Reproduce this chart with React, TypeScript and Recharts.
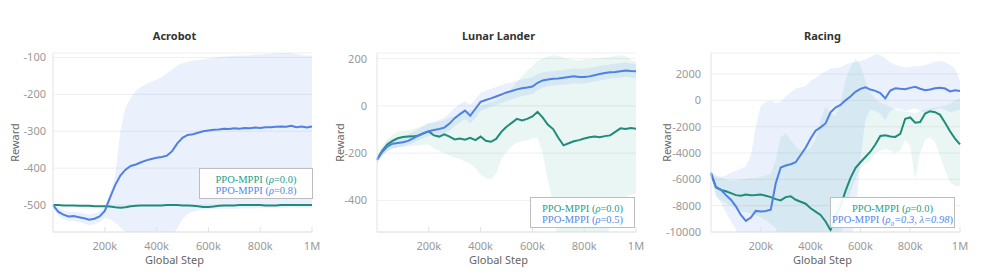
import { Area, CartesianGrid, ComposedChart, Line, XAxis, YAxis } from "recharts";

// Three training-curve panels: mean reward per global step (thousands) with a shaded range.

const STEP_K = [
  0, 20, 40, 60, 80, 100, 120, 140, 160, 180, 200, 220, 240, 260, 280, 300, 320, 340, 360, 380,
  400, 420, 440, 460, 480, 500, 520, 540, 560, 580, 600, 620, 640, 660, 680, 700, 720, 740, 760,
  780, 800, 820, 840, 860, 880, 900, 920, 940, 960, 980, 1000,
];
const X_TICKS = [200, 400, 600, 800, 1000];

// Acrobot
const ACRO_TICKS = [-500, -400, -300, -200, -100];
const ACRO_G = [
  -500, -500, -501, -501, -501, -502, -502, -502, -503, -503, -503, -504, -506, -507, -506, -503,
  -502, -501, -501, -501, -501, -501, -500, -500, -500, -501, -501, -502, -503, -505, -505, -504,
  -502, -501, -501, -501, -500, -500, -500, -500, -500, -501, -501, -501, -500, -500, -500, -500,
  -500, -500, -500,
];
const ACRO_B = [
  -500, -518, -526, -531, -530, -533, -536, -540, -537, -531, -516, -480, -446, -420, -404, -394,
  -390, -384, -379, -375, -372, -370, -366, -354, -333, -318, -310, -308, -304, -300, -298, -296,
  -295, -293, -294, -292, -293, -291, -292, -290, -291, -289, -289, -288, -287, -288, -285, -289,
  -287, -290, -287,
];
const ACRO_B_HI = [
  -495, -508, -514, -518, -518, -520, -522, -526, -523, -518, -504, -470, -420, -300, -235, -210,
  -190, -180, -172, -166, -160, -153, -143, -133, -122, -116, -112, -109, -107, -105, -103, -101,
  -99, -98, -97, -96, -95, -95, -94, -93, -92, -91, -90, -89, -88, -88, -89, -91, -94, -95, -95,
];
const ACRO_B_LO = [
  -505, -528, -538, -543, -543, -546, -550, -555, -552, -546, -536, -538, -548, -560, -575, -590,
  -600, -600, -600, -600, -600, -600, -600, -590, -562, -538, -524, -518, -515, -513, -512, -511,
  -511, -510, -510, -510, -509, -509, -509, -509, -508, -508, -508, -508, -508, -507, -507, -507,
  -507, -507, -507,
];

// Lunar Lander
const LUNAR_TICKS = [-400, -200, 0, 200];
const LUNAR_G = [
  -228, -190, -163, -148, -137, -132, -130, -129, -125, -116, -108, -125, -130, -120, -130, -142,
  -138, -143, -135, -145, -130, -148, -152, -140, -110, -88, -72, -55, -62, -55, -45, -25, -50, -80,
  -98, -135, -167, -158, -150, -145, -138, -133, -130, -133, -128, -125, -110, -95, -98, -94, -97,
];
const LUNAR_G_HI = [
  -212, -170, -140, -122, -110, -105, -102, -98, -92, -82, -72, -70, -66, -60, -50, -45, -35, -25,
  -20, -10, 0, 8, 15, 22, 35, 50, 75, 100, 125, 150, 170, 190, 200, 210, 215, 212, 205, 198, 195,
  192, 195, 198, 200, 202, 205, 208, 212, 215, 210, 195, 185,
];
const LUNAR_G_LO = [
  -245, -210, -192, -182, -176, -172, -170, -170, -168, -165, -165, -180, -190, -200, -210, -218,
  -225, -235, -245, -265, -290, -305, -312, -285, -225, -195, -172, -155, -150, -145, -138, -135,
  -200, -320, -410, -600, -600, -600, -600, -600, -600, -600, -600, -600, -600, -500, -420, -410,
  -385, -375, -370,
];
const LUNAR_B = [
  -228, -195, -172, -160, -157, -154, -148, -137, -126, -115, -107, -102, -98, -92, -75, -52, -35,
  -20, -42, -12, 17, 25, 32, 40, 48, 57, 63, 70, 75, 78, 82, 98, 108, 112, 115, 116, 119, 122, 125,
  122, 122, 125, 130, 135, 139, 142, 144, 147, 150, 148, 147,
];
const LUNAR_B_HI = [
  -212, -178, -150, -138, -135, -130, -122, -110, -98, -85, -75, -68, -60, -50, -30, -8, 8, 20, 5,
  30, 55, 65, 72, 80, 88, 95, 100, 108, 112, 116, 122, 135, 142, 145, 148, 150, 152, 155, 158, 156,
  157, 160, 165, 170, 172, 175, 178, 182, 185, 180, 176,
];
const LUNAR_B_LO = [
  -242, -210, -190, -180, -176, -172, -166, -156, -146, -136, -128, -124, -122, -118, -105, -85,
  -70, -55, -75, -50, -22, -12, -5, 3, 12, 20, 28, 35, 42, 46, 50, 66, 78, 83, 86, 88, 90, 93, 96,
  94, 95, 98, 104, 108, 112, 116, 118, 120, 123, 120, 118,
];

// Racing
const RACE_TICKS = [-10000, -8000, -6000, -4000, -2000, 0, 2000];
const RACE_G = [
  -5600, -6600, -6800, -6900, -7050, -7200, -7250, -7150, -7200, -7180, -7150, -7250, -7350, -7500,
  -7600, -7350, -7280, -7550, -7700, -7850, -8200, -8450, -8700, -9200, -9850, -8800, -8050, -6900,
  -5900, -5150, -4700, -4300, -3900, -3350, -2700, -2650, -2750, -2780, -2550, -1400, -1300, -1700,
  -1650, -1000, -820, -900, -1100, -1700, -2350, -2900, -3340,
];
const RACE_G_HI = [
  -5400, -5800, -5900, -6000, -6100, -6100, -6000, -6000, -5900, -5900, -5800, -5700, -5600, -4500,
  -2800, -2500, -3000, -3500, -3800, -3800, -3600, -3000, -1500, -500, -1000, -1200, -200, 1500,
  2500, 3200, 2700, 1500, 600, 100, -200, -300, -500, -700, -800, -850, -900, -950, -800, -700,
  -600, -550, -500, -400, -250, 0, 150,
];
const RACE_G_LO = [
  -5700, -7300, -7600, -7800, -8000, -8300, -8400, -8500, -8600, -8700, -8900, -9100, -9400, -9700,
  -11000, -11000, -11000, -11000, -11000, -11000, -11000, -11000, -11000, -11000, -11000, -11000,
  -11000, -8000, -7000, -6000, -5200, -4800, -4600, -4000, -3800, -3700, -3800, -4000, -3800, -3000,
  -3500, -6000, -4000, -3000, -2800, -3200, -4200, -5300, -6200, -6500, -6500,
];
const RACE_B = [
  -5500, -6600, -6800, -7200, -7550, -8050, -8700, -9150, -8900, -8400, -8450, -8400, -8300, -6300,
  -5100, -4950, -4850, -4700, -4150, -3600, -2900, -2300, -2050, -1750, -900, -550, -350, 0, 300,
  650, 880, 1000, 820, 720, 560, 150, 750, 920, 880, 850, 950, 1030, 880, 770, 830, 920, 960, 900,
  680, 760, 710,
];
const RACE_B_HI = [
  -5400, -5700, -5800, -5700, -5500, -5350, -5200, -5000, -4200, -2000, -400, -100, 0, -200, -100,
  300, 600, 900, 1000, 1100, 1500, 1700, 2000, 2200, 2400, 2450, 2500, 2700, 2850, 2900, 3000, 3100,
  3300, 3500, 3450, 3200, 2900, 2700, 2600, 2500, 2550, 2600, 2600, 2700, 2800, 2950, 3000, 2900,
  2700, 2400, 1500,
];
const RACE_B_LO = [
  -5600, -7200, -7800, -8500, -9200, -9800, -11000, -11000, -11000, -11000, -11000, -11000, -11000,
  -11000, -11000, -11000, -11000, -11000, -11000, -11000, -11000, -11000, -11000, -11000, -11000,
  -11000, -11000, -11000, -11000, -9000, -4500, -1500, -700, -800, -1000, -1500, -800, -600, -700,
  -800, -700, -600, -800, -900, -800, -700, -600, -700, -900, -800, -700,
];

const TEAL = "#1f8c7a";
const BLUE = "#4f81e3";
const TEAL_TEXT = "#1fa08c";
const BLUE_TEXT = "#5489e8";
const AXIS = "#e2e2e2";

type LegendItem = { color: string; param: string; sub?: string; value: string; italicValue?: boolean };

type PanelProps = {
  title: string;
  left: number;
  width: number;
  marginLeft: number;
  marginRight: number;
  yWidth: number;
  yTickMargin: number;
  yLabelOffset: number;
  yDomain: [number, number];
  yTicks: number[];
  labelDx: number;
  green: number[];
  greenHi?: number[];
  greenLo?: number[];
  blue: number[];
  blueHi: number[];
  blueLo: number[];
  legend: { left: number; top: number; width: number; items: LegendItem[] };
};

function fmtStep(v: number): string {
  return v === 1000 ? "1M" : `${v}k`;
}

function Panel(p: PanelProps) {
  const data = STEP_K.map((s, i) => ({
    step: s,
    green: p.green[i],
    blue: p.blue[i],
    greenBand: p.greenHi && p.greenLo ? [p.greenLo[i], p.greenHi[i]] : undefined,
    blueBand: [p.blueLo[i], p.blueHi[i]],
  }));
  const plotLeft = p.marginLeft + p.yWidth;
  const plotCenter = (plotLeft + p.width - p.marginRight) / 2 + p.labelDx;
  return (
    <div style={{ position: "absolute", left: p.left, top: 0, width: p.width, height: 280 }}>
      <div
        style={{
          position: "absolute",
          left: plotCenter - 100,
          top: 28,
          width: 200,
          textAlign: "center",
          fontSize: 11,
          fontWeight: 700,
          color: "#333",
          lineHeight: "16px",
        }}
      >
        {p.title}
      </div>
      <ComposedChart
        width={p.width}
        height={280}
        data={data}
        margin={{ top: 53, right: p.marginRight, bottom: 0, left: p.marginLeft }}
      >
        <CartesianGrid vertical={false} stroke="#efefef" />
        <XAxis
          dataKey="step"
          type="number"
          domain={[0, 1000]}
          ticks={X_TICKS}
          tickFormatter={fmtStep}
          height={48}
          axisLine={{ stroke: AXIS }}
          tickLine={{ stroke: AXIS }}
          tickSize={-5}
          tickMargin={15}
          tick={{ fill: "#999", fontSize: 11 }}
          label={{
            value: "Global Step",
            position: "insideBottom",
            offset: 16,
            dx: p.labelDx,
            style: { fill: "#666", fontSize: 11 },
          }}
        />
        <YAxis
          type="number"
          domain={p.yDomain}
          ticks={p.yTicks}
          allowDataOverflow
          width={p.yWidth}
          axisLine={{ stroke: AXIS }}
          tickLine={false}
          tickSize={0}
          tickMargin={p.yTickMargin}
          tick={{ fill: "#999", fontSize: 11 }}
          label={{
            value: "Reward",
            angle: -90,
            position: "insideLeft",
            offset: p.yLabelOffset,
            style: { fill: "#666", fontSize: 11, textAnchor: "middle" },
          }}
        />
        <Area
          type="linear"
          dataKey="blueBand"
          stroke="none"
          fill={BLUE}
          fillOpacity={0.12}
          activeDot={false}
          isAnimationActive={false}
        />
        {p.greenHi && (
          <Area
            type="linear"
            dataKey="greenBand"
            stroke="none"
            fill="#1a9c88"
            fillOpacity={0.09}
            activeDot={false}
            isAnimationActive={false}
          />
        )}
        <Line
          type="linear"
          dataKey="green"
          stroke={TEAL}
          strokeWidth={2}
          dot={false}
          activeDot={false}
          isAnimationActive={false}
        />
        <Line
          type="linear"
          dataKey="blue"
          stroke={BLUE}
          strokeWidth={2}
          dot={false}
          activeDot={false}
          isAnimationActive={false}
        />
      </ComposedChart>
      <div
        style={{
          position: "absolute",
          left: p.legend.left,
          top: p.legend.top,
          width: p.legend.width,
          boxSizing: "border-box",
          border: "1px solid #bdbdbd",
          background: "rgba(255,255,255,0.92)",
          padding: "5px 0 2px",
          textAlign: "center",
          fontFamily: "'Liberation Serif', 'DejaVu Serif', serif",
          fontSize: 10.5,
          lineHeight: "11px",
          whiteSpace: "nowrap",
        }}
      >
        {p.legend.items.map((it, i) => (
          <div key={i} style={{ color: it.color }}>
            PPO-MPPI (
            <i>
              {it.param}
              {it.sub && <sub style={{ fontSize: 7, lineHeight: 0 }}>{it.sub}</sub>}
              {it.italicValue ? it.value : null}
            </i>
            {it.italicValue ? null : it.value})
          </div>
        ))}
      </div>
    </div>
  );
}

export default function App() {
  return (
    <div
      style={{
        position: "absolute",
        left: 0,
        top: 0,
        width: 996,
        height: 280,
        background: "#fff",
        fontFamily: "'Noto Sans', sans-serif",
      }}
    >
      <Panel
        title="Acrobot"
        left={0}
        width={330}
        marginLeft={13}
        marginRight={18}
        yWidth={40}
        yTickMargin={7}
        yLabelOffset={2}
        yDomain={[-573, -88]}
        yTicks={ACRO_TICKS}
        labelDx={-8}
        green={ACRO_G}
        blue={ACRO_B}
        blueHi={ACRO_B_HI}
        blueLo={ACRO_B_LO}
        legend={{
          left: 199,
          top: 168,
          width: 114,
          items: [
            { color: TEAL_TEXT, param: "ρ", value: "=0.0" },
            { color: BLUE_TEXT, param: "ρ", value: "=0.8" },
          ],
        }}
      />
      <Panel
        title="Lunar Lander"
        left={330}
        width={330}
        marginLeft={8}
        marginRight={24}
        yWidth={39}
        yTickMargin={10}
        yLabelOffset={2}
        yDomain={[-534, 224]}
        yTicks={LUNAR_TICKS}
        labelDx={-8}
        green={LUNAR_G}
        greenHi={LUNAR_G_HI}
        greenLo={LUNAR_G_LO}
        blue={LUNAR_B}
        blueHi={LUNAR_B_HI}
        blueLo={LUNAR_B_LO}
        legend={{
          left: 200,
          top: 197,
          width: 105,
          items: [
            { color: TEAL_TEXT, param: "ρ", value: "=0.0" },
            { color: BLUE_TEXT, param: "ρ", value: "=0.5" },
          ],
        }}
      />
      <Panel
        title="Racing"
        left={660}
        width={336}
        marginLeft={1}
        marginRight={36}
        yWidth={50}
        yTickMargin={10}
        yLabelOffset={6}
        yDomain={[-10000, 3600]}
        yTicks={RACE_TICKS}
        labelDx={-13}
        green={RACE_G}
        greenHi={RACE_G_HI}
        greenLo={RACE_G_LO}
        blue={RACE_B}
        blueHi={RACE_B_HI}
        blueLo={RACE_B_LO}
        legend={{
          left: 170,
          top: 197,
          width: 125,
          items: [
            { color: TEAL_TEXT, param: "ρ", value: "=0.0" },
            { color: BLUE_TEXT, param: "ρ", sub: "0", value: "=0.3, λ=0.98", italicValue: true },
          ],
        }}
      />
    </div>
  );
}
